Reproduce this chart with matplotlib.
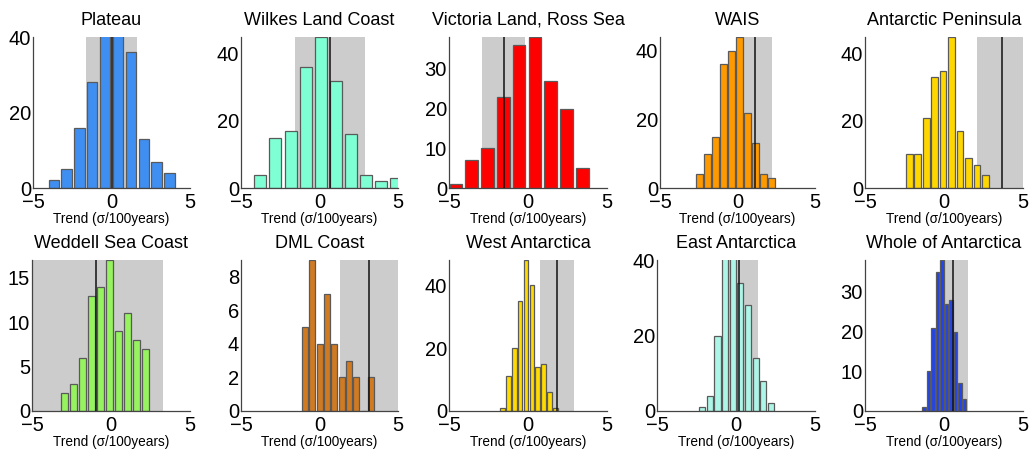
import numpy as np
import matplotlib as mpl
import matplotlib.pyplot as plt

# ---------------------------------------------------------------------------
# DATA
# ---------------------------------------------------------------------------
titles = ["Plateau", "Wilkes Land Coast", "Victoria Land, Ross Sea", "WAIS",
          "Antarctic Peninsula", "Weddell Sea Coast", "DML Coast",
          "West Antarctica", "East Antarctica", "Whole of Antarctica"]

centers = [
    [-3.68, -2.86, -2.04, -1.22, -0.41, 0.41, 1.23, 2.05, 2.87, 3.69],
    [-3.77, -2.81, -1.84, -0.88, 0.08, 1.05, 2.01, 2.97, 3.94, 4.90],
    [-4.56, -3.56, -2.56, -1.56, -0.56, 0.44, 1.44, 2.44, 3.44],
    [-2.46, -1.94, -1.42, -0.91, -0.39, 0.13, 0.65, 1.17, 1.68, 2.20],
    [-2.20, -1.66, -1.13, -0.59, -0.06, 0.48, 1.01, 1.55, 2.09, 2.62],
    [-2.93, -2.36, -1.79, -1.22, -0.65, -0.08, 0.49, 1.06, 1.63, 2.20],
    [-0.92, -0.45, 0.01, 0.48, 0.94, 1.41, 1.88, 2.34, 2.81, 3.27],
    [-1.62, -1.25, -0.87, -0.50, -0.13, 0.25, 0.62, 0.99, 1.37, 1.74],
    [-2.14, -1.66, -1.17, -0.69, -0.20, 0.28, 0.77, 1.25, 1.73, 2.22],
    [-1.28, -0.99, -0.71, -0.42, -0.13, 0.15, 0.44, 0.73, 1.01, 1.30],
]

counts = [
    [2, 5, 16, 28, 44, 45, 36, 13, 7, 4],
    [4, 15, 17, 36, 45, 32, 16, 4, 2, 3],
    [1, 7, 10, 23, 36, 38, 27, 20, 5],
    [4, 10, 15, 36, 40, 44, 22, 13, 4, 3],
    [10, 10, 21, 33, 35, 45, 17, 9, 7, 4],
    [2, 3, 6, 13, 14, 17, 9, 11, 8, 7],
    [5, 9, 4, 7, 4, 2, 3, 2, 0, 2],
    [1, 11, 20, 35, 48, 40, 14, 15, 6, 1],
    [1, 4, 20, 45, 46, 34, 28, 14, 8, 2],
    [1, 10, 21, 35, 38, 27, 28, 20, 7, 3],
]

# observed trend (black line) and its uncertainty range (grey band)
obs_trend = [0.0, 0.68, -1.55, 1.13, 3.70, -0.94, 3.16, 1.83, 0.20, 0.60]
band_lo   = [-1.60, -1.57, -2.93, 0.35, 2.12, -5.0, 1.30, 0.73, -0.90, 0.03]
band_hi   = [1.60, 2.90, -0.18, 2.20, 5.0, 3.31, 5.0, 2.89, 1.42, 1.51]

y_top   = [40, 45, 38, 44, 45, 17, 9, 48, 40, 38]
y_ticks = [[0, 20, 40], [0, 20, 40], [0, 10, 20, 30], [0, 20, 40],
           [0, 20, 40], [0, 5, 10, 15], [0, 2, 4, 6, 8], [0, 20, 40],
           [0, 20, 40], [0, 10, 20, 30]]
x_ticks = [-5, 0, 5]

colors = ["#3f8ff2", "#7fffd4", "#ff0000", "#ff9900", "#ffd700",
          "#96f25e", "#d07a22", "#ffdb00", "#adf5e6", "#2244ee"]

# ---------------------------------------------------------------------------
# STYLE
# ---------------------------------------------------------------------------
mpl.rcParams.update({
    "font.family": ["Liberation Sans", "DejaVu Sans"],
    "axes.spines.top": False,
    "axes.spines.right": False,
    "axes.linewidth": 0.9,
    "axes.edgecolor": "#444444",
})

W, H = 1030, 454
fig = plt.figure(figsize=(W / 100, H / 100), dpi=100)

lefts = [[33, 241, 449, 660, 865], [32, 241, 449, 657, 865]]
rights = [[190, 398, 607, 815, 1023], [190, 398, 607, 815, 1023]]
tops = [37, 260]
bottoms = [188, 411]

for i in range(10):
    r, c = divmod(i, 5)
    l, rt = lefts[r][c], rights[r][c]
    ax = fig.add_axes([l / W, 1 - bottoms[r] / H, (rt - l) / W,
                       (bottoms[r] - tops[r]) / H])

    x = np.array(centers[i])
    step = np.median(np.diff(x))
    ax.axvspan(band_lo[i], band_hi[i], color="#cccccc", lw=0, zorder=0)
    ax.bar(x, counts[i], width=0.8 * step, color=colors[i],
           edgecolor="#5a5a5a", linewidth=0.9, zorder=2)
    ax.axvline(obs_trend[i], color="#111111", lw=1.1, zorder=3)

    ax.set_xlim(-5, 5)
    ax.set_ylim(0, y_top[i])
    ax.set_xticks(x_ticks)
    ax.set_xticklabels(["\u22125", "0", "5"])
    ax.set_yticks(y_ticks[i])
    ax.tick_params(length=0, labelsize=14.5)
    ax.tick_params(axis="x", pad=3.5)
    ax.tick_params(axis="y", pad=1.5)
    ax.set_title(titles[i], fontsize=13, pad=9)
    ax.set_xlabel("Trend (\u03c3/100years)", fontsize=9.8, labelpad=0)

fig.savefig("out.png", dpi=100)
